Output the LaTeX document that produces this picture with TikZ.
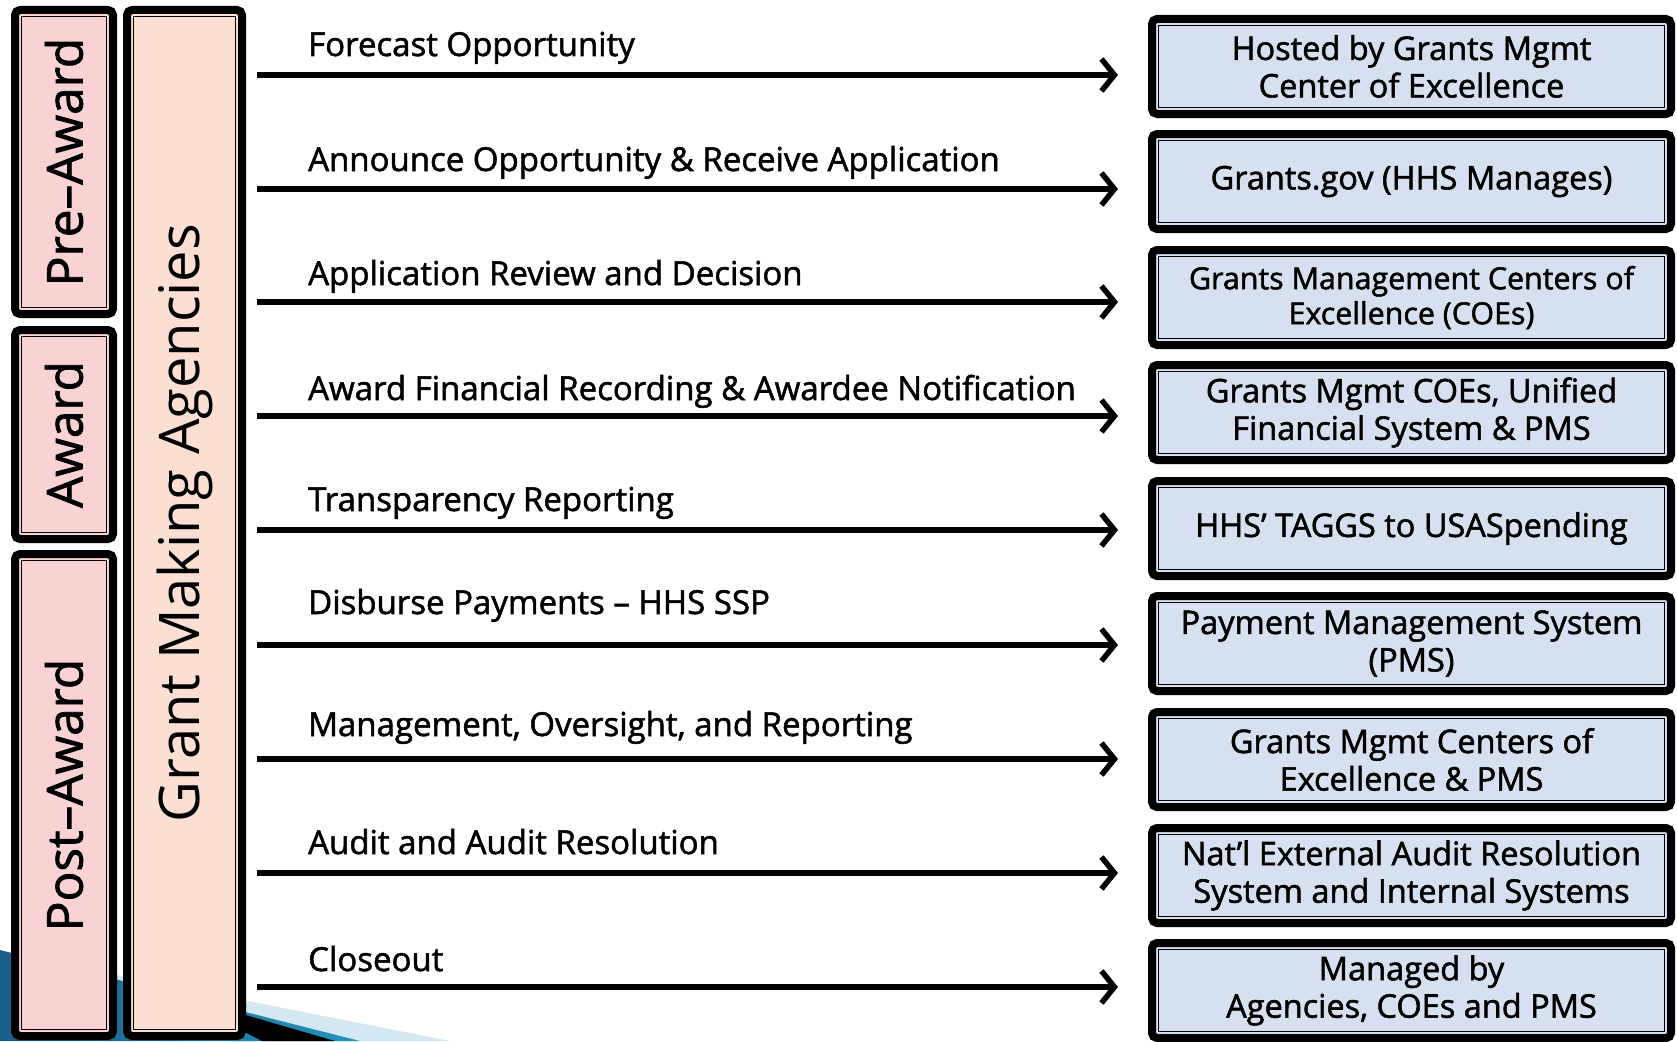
\documentclass[tikz,border=0pt]{standalone}
\usepackage{fontspec}
\setmainfont{Open Sans}[FakeBold=1.6]
\newfontfamily\plainsans{Open Sans}
\usetikzlibrary{arrows.meta,calc}

\definecolor{phasepink}{HTML}{F9D2D4}
\definecolor{agencypeach}{HTML}{FBDFD2}
\definecolor{systemblue}{HTML}{D6E0F0}
\definecolor{swooshlight}{HTML}{D3E8F1}
\definecolor{swooshteal}{HTML}{2393BA}
\definecolor{swooshdeep}{HTML}{1B5F8C}

\newcommand\labfont{\fontsize{33}{38}\selectfont}
\newcommand\sysfont{\fontsize{32.5}{37.5}\selectfont}
\newcommand\smallsysfont{\fontsize{30.4}{35}\selectfont}
\newcommand\phasefont{\fontsize{49.5}{52}\selectfont}
\newcommand\agencyfont{\plainsans\fontsize{56}{60}\selectfont}

\begin{document}
\begin{tikzpicture}[x=1pt,y=-1pt,
  frame/.style={draw=black, line width=8pt, rounded corners=5pt,
    inner sep=0pt, outer sep=0pt,
    path picture={\draw[line width=1.4pt, sharp corners, black]
      ($(path picture bounding box.north west)+(6.5,6.5)$) rectangle
      ($(path picture bounding box.south east)+(-6.5,-6.5)$);}},
  sysbox/.style={frame, fill=systemblue, minimum width=519pt, minimum height=95pt},
  systext/.style={font=\sysfont, align=center, inner sep=0pt},
  steplabel/.style={font=\labfont, anchor=base west, inner sep=0pt},
  flow/.style={line width=5.5pt, shorten >=34pt,
    -{Straight Barb[length=13pt, width=32pt]}},
  vtext/.style={rotate=90, inner sep=0pt}
]
\useasboundingbox (0,0) rectangle (1677,1041);

% decorative swoosh in the lower left corner
\fill[swooshlight] (0,952) -- (450,1041) -- (0,1041) -- cycle;
\shade[left color=swooshdeep, right color=swooshteal]
  (0,950) -- (360,1041) -- (0,1041) -- cycle;
\fill[black] (170,993) -- (335,1041) -- (262,1041) -- cycle;

% phase bars
\node[frame, fill=phasepink, minimum width=98pt, minimum height=304pt] (pre) at (64,162) {};
\node[frame, fill=phasepink, minimum width=98pt, minimum height=209pt] (award) at (64,434.5) {};
\node[frame, fill=phasepink, minimum width=98pt, minimum height=482pt] (post) at (64,795) {};
\node[vtext, font=\phasefont] (pret) at (pre.center) {Pre--Award};
\node[vtext, font=\phasefont] (awardt) at (award.center) {Award};
\node[vtext, font=\phasefont] (postt) at (post.center) {Post--Award};

% agencies bar
\node[frame, fill=agencypeach, minimum width=115pt, minimum height=1026pt] (gma) at (184.5,523) {};
\node[vtext, font=\agencyfont] (gmat) at (gma.center) {Grant Making Agencies};

% supporting systems
\foreach \i/\y in {1/66.5, 2/181.5, 3/297.5, 4/412.5, 5/528.5, 6/643.5, 7/759.5, 8/875.5, 9/990.5}
  \node[sysbox] (r\i) at (1411.5,\y) {};

\node[systext] (t1) at (r1.center) {Hosted by Grants Mgmt\\Center of Excellence};
\node[systext] (t2) at (r2.center) {Grants.gov (HHS Manages)};
\node[systext, font=\smallsysfont] (t3) at (r3.center) {Grants Management Centers of\\Excellence (COEs)};
\node[systext] (t4) at (r4.center) {Grants Mgmt COEs, Unified\\Financial System \& PMS};
\node[systext] (t5) at (r5.center) {HHS’ TAGGS to USASpending};
\node[systext] (t6) at (r6.center) {Payment Management System\\(PMS)};
\node[systext] (t7) at (r7.center) {Grants Mgmt Centers of\\Excellence \& PMS};
\node[systext] (t8) at (r8.center) {Nat’l External Audit Resolution\\System and Internal Systems};
\node[systext] (t9) at (r9.center) {Managed by\\Agencies, COEs and PMS};

% arrow start points
\foreach \i/\y in {1/75, 2/189, 3/302, 4/416, 5/530, 6/645, 7/759, 8/873, 9/987}
  \coordinate (s\i) at (257,\y);

\foreach \i in {1,...,9}
  \draw[flow] (s\i) -- (s\i -| r\i.west);

% step labels
\node[steplabel] (l1) at (308,56) {Forecast Opportunity};
\node[steplabel] (l2) at (308,171) {Announce Opportunity \& Receive Application};
\node[steplabel] (l3) at (308,285) {Application Review and Decision};
\node[steplabel] (l4) at (308,400) {Award Financial Recording \& Awardee Notification};
\node[steplabel] (l5) at (308,511) {Transparency Reporting};
\node[steplabel] (l6) at (308,614) {Disburse Payments -- HHS SSP};
\node[steplabel] (l7) at (308,736) {Management, Oversight, and Reporting};
\node[steplabel] (l8) at (308,854) {Audit and Audit Resolution};
\node[steplabel] (l9) at (308,971) {Closeout};
\end{tikzpicture}
\end{document}
